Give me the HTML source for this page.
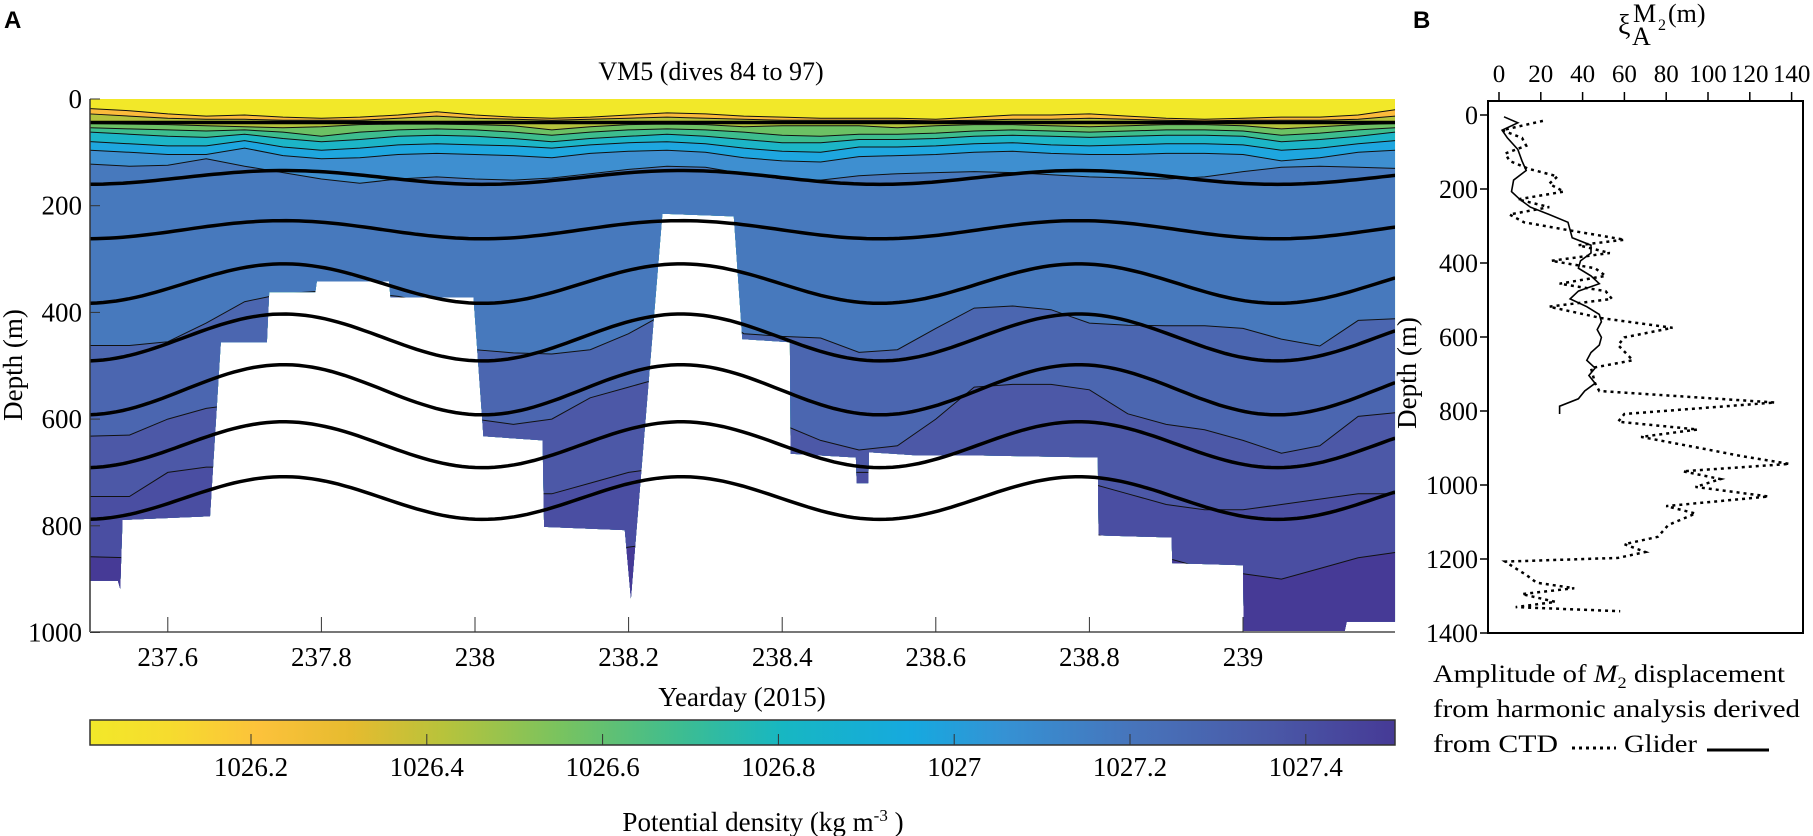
<!DOCTYPE html>
<html><head><meta charset="utf-8">
<style>
html,body{margin:0;padding:0;background:#fff;}
svg{display:block;font-family:"Liberation Serif",serif;}
</style></head>
<body>
<svg id="fig" width="1813" height="836" viewBox="0 0 1813 836" xmlns="http://www.w3.org/2000/svg">
<defs>
<linearGradient id="parula" x1="0" x2="1" y1="0" y2="0">
<stop offset="0" stop-color="#f2e829"/><stop offset="0.06" stop-color="#f6dc2e"/>
<stop offset="0.13" stop-color="#fcc23b"/><stop offset="0.2" stop-color="#e6bb2f"/>
<stop offset="0.27" stop-color="#b8c33b"/><stop offset="0.36" stop-color="#79c35f"/>
<stop offset="0.45" stop-color="#3fbd8f"/><stop offset="0.53" stop-color="#17b7c2"/>
<stop offset="0.63" stop-color="#16a9df"/><stop offset="0.7" stop-color="#3592d4"/>
<stop offset="0.8" stop-color="#4774bb"/><stop offset="0.9" stop-color="#4a5aa8"/>
<stop offset="1" stop-color="#463a96"/>
</linearGradient>
<clipPath id="dataClip"><path id="dataClipPath" d=""/></clipPath>
<clipPath id="plotClip"><rect x="90" y="99" width="1305" height="533"/></clipPath>
</defs>
<text x="4" y="28" font-family="Liberation Sans, sans-serif" font-weight="bold" font-size="24">A</text>
<text x="1413" y="28" font-family="Liberation Sans, sans-serif" font-weight="bold" font-size="24">B</text>
<text x="711" y="80" text-anchor="middle" font-size="26">VM5 (dives 84 to 97)</text>
<g id="bands" clip-path="url(#dataClip)"></g>
<g id="waves" clip-path="url(#plotClip)"></g>
<g id="axesA"></g>
<text transform="translate(22,365) rotate(-90)" text-anchor="middle" font-size="27">Depth (m)</text>
<text x="742" y="706" text-anchor="middle" font-size="27">Yearday (2015)</text>
<g id="cbar"></g>
<text x="763" y="831" text-anchor="middle" font-size="27">Potential density (kg m<tspan dy="-10" font-size="17">-3</tspan><tspan dy="10"> )</tspan></text>
<g id="axesB"></g>
<g>
<text x="1618" y="34" font-size="28">ξ</text>
<text x="1633" y="22" font-size="26">M</text>
<text x="1658" y="30" font-size="16">2</text>
<text x="1668" y="22" font-size="26">(m)</text>
<text x="1632" y="45" font-size="26">A</text>
</g>
<text transform="translate(1416,373) rotate(-90)" text-anchor="middle" font-size="27">Depth (m)</text>
<g font-size="25">
<text x="1433" y="682" textLength="352" lengthAdjust="spacingAndGlyphs">Amplitude of <tspan font-style="italic">M</tspan><tspan font-size="16" dy="6">2</tspan><tspan dy="-6"> displacement</tspan></text>
<text x="1433" y="717" textLength="367" lengthAdjust="spacingAndGlyphs">from harmonic analysis derived</text>
<text x="1433" y="752" textLength="125" lengthAdjust="spacingAndGlyphs">from CTD</text>
<line x1="1572" y1="748" x2="1616" y2="748" stroke="#000" stroke-width="3" stroke-dasharray="3,4"/>
<text x="1624" y="752" textLength="73" lengthAdjust="spacingAndGlyphs">Glider</text>
<line x1="1707" y1="750" x2="1769" y2="750" stroke="#000" stroke-width="3"/>
</g>
</svg>
<script>
const NS="http://www.w3.org/2000/svg";
const bTimes=[237.499,237.55,237.6,237.65,237.7,237.75,237.8,237.85,237.9,237.95,238.0,238.05,238.1,238.15,238.2,238.25,238.3,238.35,238.4,238.45,238.5,238.55,238.6,238.65,238.7,238.75,238.8,238.85,238.9,238.95,239.0,239.05,239.1,239.15,239.198];
const bandColors=["#fbbb3c","#b4c33c","#6cc164","#3dbd8e","#1cb5c7","#1ea6df","#3e8fd0","#4779bd","#4b66b0","#4c58a7","#4a4ea2","#463a96"];
const bOrange=[18,22,28,32,30,34,36,34,30,24,30,34,36,34,30,26,28,32,34,36,36,36,38,34,30,30,28,32,36,38,36,34,34,30,20];
const bOlive=[28,32,36,38,38,40,40,40,36,32,36,38,40,38,36,34,36,38,40,40,40,40,41,40,38,38,36,38,40,41,40,40,40,38,32];
const bGreen=[46,47,48,50,52,54,52,48,47,47,48,50,58,52,48,47,48,52,50,50,50,54,50,48,48,50,52,50,48,48,50,56,52,48,46];
const bTealGreen=[54,56,58,60,58,62,70,62,58,56,58,62,68,62,58,56,58,62,68,70,66,66,64,60,58,60,62,60,58,58,60,68,64,58,54];
const bTeal=[62,66,70,72,66,74,80,76,70,68,70,74,80,74,70,66,70,76,82,82,76,76,74,70,68,70,72,70,68,68,70,80,76,70,62];
const bCyan=[80,84,88,88,78,90,96,92,86,84,86,88,92,86,82,80,84,92,98,100,90,90,88,84,82,86,88,86,84,84,86,96,92,84,78];
const bLightBlue=[96,100,104,104,92,106,112,110,104,102,104,106,110,102,98,96,100,110,116,118,108,106,104,100,98,102,104,104,102,102,104,116,110,100,96];
const bMain=[122,126,124,112,126,138,150,158,150,146,150,152,148,140,132,126,128,140,150,152,144,140,138,136,138,142,146,148,150,146,136,128,126,128,130];
const bDeep1=[462,462,455,420,380,365,360,362,370,385,470,476,478,470,440,400,390,440,445,448,475,470,430,392,388,395,420,424,425,425,430,450,463,415,412];
const bDeep2=[632,630,600,580,570,570,570,570,570,580,600,610,600,560,540,520,520,600,610,640,658,650,600,540,535,535,545,590,610,620,640,664,650,595,588];
const bDeep3=[745,745,700,690,690,690,690,690,690,700,720,740,740,720,700,690,690,700,700,700,700,700,710,715,717,717,720,740,760,770,770,760,750,740,740];
const bDeep4=[858,860,850,840,840,840,840,840,840,840,850,860,860,850,840,830,830,820,810,800,795,795,795,795,795,800,810,840,860,880,890,900,880,860,850];
const boundaries=[bOrange,bOlive,bGreen,bTealGreen,bTeal,bCyan,bLightBlue,bMain,bDeep1,bDeep2,bDeep3,bDeep4];
const covT=[237.499,237.535,237.538,237.541,237.655,237.669,237.729,237.732,237.792,237.794,237.888,237.890,237.998,238.011,238.088,238.090,238.195,238.203,238.244,238.337,238.348,238.410,238.411,238.496,238.497,238.512,238.513,238.575,238.652,238.811,238.812,238.907,238.908,239.000,239.001,239.132,239.135,239.198];
const covD=[903,903,918,789,782,456,456,362,362,342,342,372,372,632,640,802,808,936,215,220,450,456,665,672,720,720,662,668,668,672,818,822,870,874,1000,1000,980,980];
const waveMean=[147,245,346,447,545,648,748];
const waveAmp=[13,17,37,44,47,43,40];
const wavePeriod=0.5175, waveCrest=237.751;
const mixedLayer=44;
const xTicksA=[237.6,237.8,238,238.2,238.4,238.6,238.8,239];
const xTickLabelsA=["237.6","237.8","238","238.2","238.4","238.6","238.8","239"];
const yTicksA=[0,200,400,600,800,1000];
const cbTicks=[1026.2,1026.4,1026.6,1026.8,1027,1027.2,1027.4];
const gliderDepth=[5,21,41,62,93,124,150,176,207,228,249,269,290,311,332,352,373,394,414,435,456,476,497,518,539,559,580,601,622,642,663,684,704,725,746,767,787,808];
const gliderAmp=[2.4,9,1.5,4,9,11,13,7,6,10,15,24,33,34,35,44,44,39,38,44,48,38,34,42,48,49,47,49,48,44,42,46,43,46,41,38,29,29];
const ctdDepth=[16,41,62,83,104,124,145,166,186,207,228,249,269,290,311,337,352,373,394,414,435,456,476,497,518,549,575,601,622,663,684,725,746,777,808,829,850,870,901,922,943,963,984,1005,1031,1057,1077,1108,1140,1160,1181,1197,1207,1222,1243,1264,1279,1295,1316,1330,1341];
const ctdAmp=[21,1.5,11,13,3,5,14,28,24,31,9,24,5,12,33,60,38,53,25,46,51,29,51,54,24,49,83,60,57,64,44,46,48,132,60,57,95,68,97,116,139,88,106,94,129,80,94,81,76,60,70,57,3,7,13,18,36,11,27,8,58];
const xTicksB=[0,20,40,60,80,100,120,140];
const yTicksB=[0,200,400,600,800,1000,1200,1400];

const xA=t=>475+(t-238)*768;
const yA=d=>99+d*0.5335;
const xCB=v=>251+(v-1026.2)*879;
const xB=a=>1499+a*2.09;
const yB=d=>115+d*0.37;

function mk(tag,attrs,parent){const e=document.createElementNS(NS,tag);for(const k in attrs)e.setAttribute(k,attrs[k]);parent.appendChild(e);return e;}

let cp="M"+xA(covT[0])+","+yA(0)+" L"+xA(covT[covT.length-1])+","+yA(0);
for(let i=covT.length-1;i>=0;i--) cp+=" L"+xA(covT[i]).toFixed(1)+","+yA(covD[i]).toFixed(1);
cp+=" Z";
document.getElementById('dataClipPath').setAttribute('d',cp);

const bands=document.getElementById('bands');
const base=mk('rect',{x:90,y:99,width:1305,height:533,fill:"#f2e829"},bands);


boundaries.forEach((b,j)=>{
  let d="M"+xA(bTimes[0])+","+yA(b[0]);
  for(let i=1;i<bTimes.length;i++) d+=" L"+xA(bTimes[i]).toFixed(1)+","+yA(b[i]).toFixed(1);
  const line=d;
  d+=" L"+xA(bTimes[bTimes.length-1])+","+yA(1000)+" L"+xA(bTimes[0])+","+yA(1000)+" Z";
  const p=mk('path',{d:d,fill:bandColors[j]},bands);
  
  
  const c=mk('path',{d:line,fill:"none",stroke:"#111","stroke-width":1},bands);
  
  
});
const waves=document.getElementById('waves');
const ml=mk('line',{x1:90,x2:1395,y1:yA(mixedLayer),y2:yA(mixedLayer),stroke:"#000","stroke-width":3.5},waves);


waveMean.forEach((m,k)=>{
  let d="";
  for(let i=0;i<=200;i++){const t=237.499+i*(239.198-237.499)/200;
    const dep=m-waveAmp[k]*Math.cos(2*Math.PI*(t-waveCrest)/wavePeriod);
    d+=(i?" L":"M")+xA(t).toFixed(1)+","+yA(dep).toFixed(1);}
  const w=mk('path',{d:d,fill:"none",stroke:"#000","stroke-width":3.5},waves);
  
  
});
const axA=document.getElementById('axesA');
mk('line',{x1:90,x2:90,y1:99,y2:632,stroke:"#333","stroke-width":1.5},axA);
mk('line',{x1:90,x2:1395,y1:632,y2:632,stroke:"#777","stroke-width":2},axA);
xTicksA.forEach((t,i)=>{
  mk('line',{x1:xA(t),x2:xA(t),y1:632,y2:617,stroke:"#333","stroke-width":1},axA);
  const tx=mk('text',{x:xA(t),y:666,"text-anchor":"middle","font-size":27},axA);
  tx.textContent=xTickLabelsA[i];
  
  
});
yTicksA.forEach(v=>{
  mk('line',{x1:90,x2:100,y1:yA(v),y2:yA(v),stroke:"#333","stroke-width":1},axA);
  const tx=mk('text',{x:82,y:yA(v)+9,"text-anchor":"end","font-size":27},axA);
  tx.textContent=String(v);
  
  
});
const cb=document.getElementById('cbar');
const cbr=mk('rect',{x:90,y:720,width:1305,height:25,fill:"url(#parula)",stroke:"#333","stroke-width":1.5},cb);


cbTicks.forEach(v=>{
  mk('line',{x1:xCB(v),x2:xCB(v),y1:745,y2:734,stroke:"#333","stroke-width":1},cb);
  const tx=mk('text',{x:xCB(v),y:776,"text-anchor":"middle","font-size":27},cb);
  tx.textContent=String(v);
  
  
});
const axB=document.getElementById('axesB');
const box=mk('rect',{x:1488,y:101,width:315,height:532,fill:"none",stroke:"#000","stroke-width":2},axB);


xTicksB.forEach(v=>{
  mk('line',{x1:xB(v),x2:xB(v),y1:101,y2:92,stroke:"#000","stroke-width":1.5},axB);
  const tx=mk('text',{x:xB(v),y:82,"text-anchor":"middle","font-size":25},axB);
  tx.textContent=String(v);
  
  
});
yTicksB.forEach(v=>{
  mk('line',{x1:1488,x2:1480,y1:yB(v),y2:yB(v),stroke:"#000","stroke-width":1.5},axB);
  const tx=mk('text',{x:1478,y:yB(v)+9,"text-anchor":"end","font-size":26},axB);
  tx.textContent=String(v);
  
  
});
let dc="";ctdDepth.forEach((d,i)=>{dc+=(i?" L":"M")+xB(ctdAmp[i]).toFixed(1)+","+yB(d).toFixed(1);});
const ctd=mk('path',{d:dc,fill:"none",stroke:"#000","stroke-width":2.5,"stroke-dasharray":"3,4"},axB);


let dg="";gliderDepth.forEach((d,i)=>{dg+=(i?" L":"M")+xB(gliderAmp[i]).toFixed(1)+","+yB(d).toFixed(1);});
const gl=mk('path',{d:dg,fill:"none",stroke:"#000","stroke-width":1.6},axB);


</script>
</body></html>
